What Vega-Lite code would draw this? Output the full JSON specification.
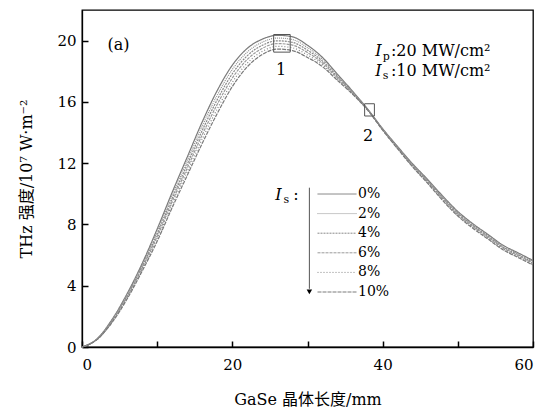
{
  "$schema": "https://vega.github.io/schema/vega-lite/v6.json",
  "width": 451,
  "height": 337,
  "autosize": "none",
  "padding": {"left": 82, "top": 10, "right": 24, "bottom": 61},
  "background": "white",
  "config": {
    "view": {"stroke": "black", "strokeWidth": 1.3},
    "font": "DejaVu Serif, Noto Sans CJK SC",
    "axis": {
      "grid": false,
      "domainColor": "black",
      "domainWidth": 1.3,
      "tickColor": "black",
      "tickWidth": 1.5,
      "labelColor": "black",
      "titleColor": "black",
      "labelFontSize": 15,
      "titleFontSize": 16,
      "titleFontWeight": "normal",
      "labelFont": "DejaVu Serif",
      "titleFont": "DejaVu Serif, Noto Sans CJK SC"
    }
  },
  "datasets": {
    "curves": [
      {"x": 0, "0%": 0, "2%": 0, "4%": 0, "6%": 0, "8%": 0, "10%": 0},
      {"x": 2, "0%": 0.53, "2%": 0.52, "4%": 0.51, "6%": 0.50, "8%": 0.49, "10%": 0.48},
      {"x": 4, "0%": 1.80, "2%": 1.76, "4%": 1.72, "6%": 1.68, "8%": 1.64, "10%": 1.60},
      {"x": 6, "0%": 3.48, "2%": 3.41, "4%": 3.34, "6%": 3.27, "8%": 3.20, "10%": 3.13},
      {"x": 8, "0%": 5.45, "2%": 5.35, "4%": 5.25, "6%": 5.15, "8%": 5.05, "10%": 4.95},
      {"x": 10, "0%": 7.70, "2%": 7.54, "4%": 7.38, "6%": 7.22, "8%": 7.06, "10%": 6.90},
      {"x": 12, "0%": 10.1, "2%": 9.9, "4%": 9.7, "6%": 9.5, "8%": 9.3, "10%": 9.1},
      {"x": 14, "0%": 12.4, "2%": 12.16, "4%": 11.92, "6%": 11.68, "8%": 11.44, "10%": 11.2},
      {"x": 16, "0%": 14.7, "2%": 14.42, "4%": 14.14, "6%": 13.86, "8%": 13.58, "10%": 13.3},
      {"x": 18, "0%": 16.75, "2%": 16.45, "4%": 16.15, "6%": 15.85, "8%": 15.55, "10%": 15.25},
      {"x": 20, "0%": 18.4, "2%": 18.12, "4%": 17.84, "6%": 17.56, "8%": 17.28, "10%": 17.0},
      {"x": 22, "0%": 19.5, "2%": 19.26, "4%": 19.02, "6%": 18.78, "8%": 18.54, "10%": 18.3},
      {"x": 24, "0%": 20.1, "2%": 19.9, "4%": 19.7, "6%": 19.5, "8%": 19.3, "10%": 19.1},
      {"x": 26, "0%": 20.35, "2%": 20.17, "4%": 19.99, "6%": 19.81, "8%": 19.63, "10%": 19.45},
      {"x": 28, "0%": 20.25, "2%": 20.07, "4%": 19.89, "6%": 19.71, "8%": 19.53, "10%": 19.35},
      {"x": 30, "0%": 19.7, "2%": 19.54, "4%": 19.38, "6%": 19.22, "8%": 19.06, "10%": 18.9},
      {"x": 32, "0%": 18.9, "2%": 18.78, "4%": 18.66, "6%": 18.54, "8%": 18.42, "10%": 18.3},
      {"x": 34, "0%": 17.8, "2%": 17.72, "4%": 17.64, "6%": 17.56, "8%": 17.48, "10%": 17.4},
      {"x": 36, "0%": 16.7, "2%": 16.66, "4%": 16.62, "6%": 16.58, "8%": 16.54, "10%": 16.5},
      {"x": 38, "0%": 15.53, "2%": 15.52, "4%": 15.51, "6%": 15.49, "8%": 15.48, "10%": 15.47},
      {"x": 40, "0%": 14.25, "2%": 14.23, "4%": 14.21, "6%": 14.19, "8%": 14.17, "10%": 14.15},
      {"x": 42, "0%": 13.08, "2%": 13.05, "4%": 13.02, "6%": 12.99, "8%": 12.96, "10%": 12.93},
      {"x": 44, "0%": 11.95, "2%": 11.91, "4%": 11.87, "6%": 11.83, "8%": 11.79, "10%": 11.75},
      {"x": 46, "0%": 10.93, "2%": 10.88, "4%": 10.83, "6%": 10.78, "8%": 10.73, "10%": 10.68},
      {"x": 48, "0%": 9.85, "2%": 9.79, "4%": 9.73, "6%": 9.67, "8%": 9.61, "10%": 9.55},
      {"x": 50, "0%": 8.85, "2%": 8.79, "4%": 8.73, "6%": 8.67, "8%": 8.61, "10%": 8.55},
      {"x": 52, "0%": 8.05, "2%": 7.99, "4%": 7.93, "6%": 7.87, "8%": 7.81, "10%": 7.75},
      {"x": 54, "0%": 7.35, "2%": 7.29, "4%": 7.23, "6%": 7.17, "8%": 7.11, "10%": 7.05},
      {"x": 56, "0%": 6.65, "2%": 6.59, "4%": 6.53, "6%": 6.47, "8%": 6.41, "10%": 6.35},
      {"x": 58, "0%": 6.15, "2%": 6.09, "4%": 6.03, "6%": 5.97, "8%": 5.91, "10%": 5.85},
      {"x": 60, "0%": 5.65, "2%": 5.59, "4%": 5.53, "6%": 5.47, "8%": 5.41, "10%": 5.35}
    ],
    "boxes": [
      {"x1": 25.5, "x2": 27.7, "y1": 19.25, "y2": 20.4},
      {"x1": 37.6, "x2": 38.9, "y1": 15.08, "y2": 15.88}
    ],
    "labels": [
      {"x": 3.4, "y": 19.74, "text": "(a)"},
      {"x": 41.1, "y": 19.35, "text": ":20 MW/cm²"},
      {"x": 41.1, "y": 18.05, "text": ":10 MW/cm²"},
      {"x": 28.1, "y": 9.9, "text": ":"}
    ],
    "centered": [
      {"x": 26.5, "y": 18.1, "text": "1"},
      {"x": 38.05, "y": 13.75, "text": "2"}
    ],
    "italic": [
      {"x": 39.0, "y": 19.35, "text": "I"},
      {"x": 39.0, "y": 18.05, "text": "I"},
      {"x": 25.7, "y": 9.9, "text": "I"}
    ],
    "subs": [
      {"x": 40.0, "y": 18.95, "text": "p"},
      {"x": 40.0, "y": 17.68, "text": "s"},
      {"x": 26.8, "y": 9.58, "text": "s"}
    ],
    "arrow": [
      {"x": 30.25, "y": 10.4, "y2": 3.8}
    ],
    "arrowhead": [
      {"x": 30.25, "y": 3.6}
    ]
  },
  "layer": [
    {
      "data": {"name": "curves"},
      "transform": [{"fold": ["0%", "2%", "4%", "6%", "8%", "10%"], "as": ["level", "value"]}],
      "mark": {"type": "line", "strokeWidth": 1.2, "interpolate": "monotone"},
      "encoding": {
        "x": {
          "field": "x", "type": "quantitative",
          "scale": {"domain": [0, 60], "nice": false},
          "axis": {
            "title": "GaSe 晶体长度/mm",
            "values": [0, 5, 10, 15, 20, 25, 30, 35, 40, 45, 50, 55, 60],
            "labelExpr": "datum.value % 20 === 0 ? datum.label : ''",
            "tickSize": {"condition": {"test": "datum.value % 10 === 0", "value": -6}, "value": -3},
            "labelPadding": 16,
            "titlePadding": 19
          }
        },
        "y": {
          "field": "value", "type": "quantitative",
          "scale": {"domain": [0, 22], "nice": false},
          "axis": {
            "title": "THz 强度/10⁷ W·m⁻²",
            "values": [0, 1, 2, 3, 4, 5, 6, 7, 8, 9, 10, 11, 12, 13, 14, 15, 16, 17, 18, 19, 20, 21],
            "labelExpr": "datum.value % 4 === 0 ? datum.label : ''",
            "tickSize": {"condition": {"test": "datum.value % 2 === 0", "value": -6}, "value": -3},
            "labelPadding": 12,
            "titlePadding": 22
          }
        },
        "color": {
          "field": "level", "type": "nominal",
          "sort": ["0%", "2%", "4%", "6%", "8%", "10%"],
          "scale": {"domain": ["0%", "2%", "4%", "6%", "8%", "10%"], "range": ["#7a7a7a", "#909090", "#888888", "#9a9a9a", "#858585", "#7a7a7a"]},
          "legend": {
            "title": null,
            "orient": "none",
            "legendX": 235,
            "legendY": 177,
            "symbolType": "M-1,0H5",
            "symbolSize": 169,
            "symbolStrokeWidth": 1,
            "labelOffset": 27,
            "labelFontSize": 14,
            "labelFont": "DejaVu Serif",
            "labelColor": "black",
            "rowPadding": 5.6
          }
        },
        "strokeDash": {
          "field": "level", "type": "nominal",
          "sort": ["0%", "2%", "4%", "6%", "8%", "10%"],
          "scale": {"domain": ["0%", "2%", "4%", "6%", "8%", "10%"], "range": [[1, 0], [1, 1], [2, 1], [3, 1], [1, 2], [4, 1]]},
          "legend": {
            "title": null,
            "orient": "none",
            "legendX": 235,
            "legendY": 177,
            "symbolType": "M-1,0H5",
            "symbolSize": 169,
            "symbolStrokeWidth": 1,
            "labelOffset": 27,
            "labelFontSize": 14,
            "labelFont": "DejaVu Serif",
            "labelColor": "black",
            "rowPadding": 5.6
          }
        }
      }
    },
    {
      "data": {"name": "boxes"},
      "mark": {"type": "rect", "fill": null, "fillOpacity": 0, "stroke": "#555555", "strokeWidth": 1},
      "encoding": {
        "x": {"field": "x1", "type": "quantitative"},
        "x2": {"field": "x2"},
        "y": {"field": "y1", "type": "quantitative"},
        "y2": {"field": "y2"}
      }
    },
    {
      "data": {"name": "arrow"},
      "mark": {"type": "rule", "color": "#555555", "strokeWidth": 1},
      "encoding": {
        "x": {"field": "x", "type": "quantitative"},
        "y": {"field": "y", "type": "quantitative"},
        "y2": {"field": "y2"}
      }
    },
    {
      "data": {"name": "arrowhead"},
      "mark": {"type": "point", "shape": "triangle-down", "filled": true, "color": "black", "size": 30, "opacity": 1},
      "encoding": {
        "x": {"field": "x", "type": "quantitative"},
        "y": {"field": "y", "type": "quantitative"}
      }
    },
    {
      "data": {"name": "labels"},
      "mark": {"type": "text", "align": "left", "baseline": "middle", "fontSize": 16, "font": "DejaVu Serif", "color": "black"},
      "encoding": {
        "x": {"field": "x", "type": "quantitative"},
        "y": {"field": "y", "type": "quantitative"},
        "text": {"field": "text"}
      }
    },
    {
      "data": {"name": "centered"},
      "mark": {"type": "text", "align": "center", "baseline": "middle", "fontSize": 16, "font": "DejaVu Serif", "color": "black"},
      "encoding": {
        "x": {"field": "x", "type": "quantitative"},
        "y": {"field": "y", "type": "quantitative"},
        "text": {"field": "text"}
      }
    },
    {
      "data": {"name": "italic"},
      "mark": {"type": "text", "align": "left", "baseline": "middle", "fontSize": 16, "fontStyle": "italic", "font": "DejaVu Serif", "color": "black"},
      "encoding": {
        "x": {"field": "x", "type": "quantitative"},
        "y": {"field": "y", "type": "quantitative"},
        "text": {"field": "text"}
      }
    },
    {
      "data": {"name": "subs"},
      "mark": {"type": "text", "align": "left", "baseline": "middle", "fontSize": 11, "font": "DejaVu Serif", "color": "black"},
      "encoding": {
        "x": {"field": "x", "type": "quantitative"},
        "y": {"field": "y", "type": "quantitative"},
        "text": {"field": "text"}
      }
    }
  ]
}
